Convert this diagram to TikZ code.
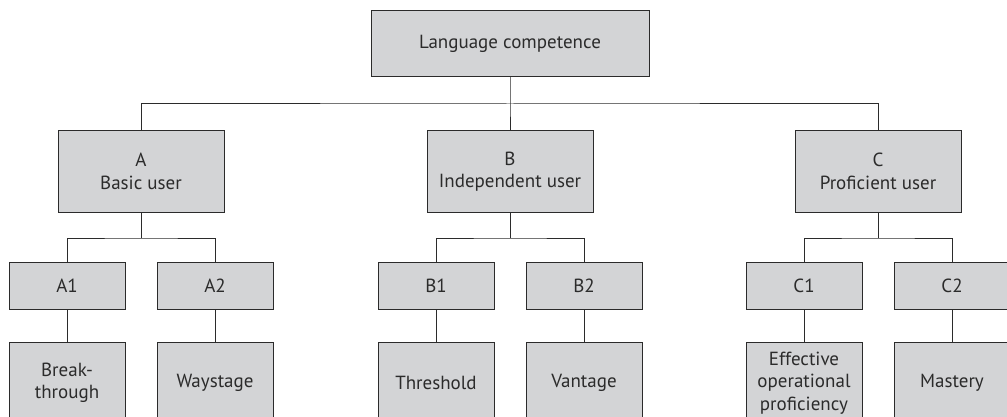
\documentclass[tikz,border=0pt]{standalone}
\usepackage{fontspec}
\setmainfont{PT Sans}
\definecolor{boxfill}{HTML}{D3D4D6}
\definecolor{ink}{HTML}{2B2B2B}
\begin{document}
\begin{tikzpicture}[x=1pt,y=-1pt,
  every node/.style={font=\fontsize{19}{22.5}\selectfont, text=ink, align=center},
  box/.style={draw=ink, fill=boxfill, line width=1pt, rectangle, inner sep=0pt},
  wide/.style={box, minimum width=278pt, minimum height=66pt},
  level/.style={box, minimum width=166pt, minimum height=81pt},
  sub/.style={box, minimum width=116pt, minimum height=47pt},
  leaf/.style={box, minimum width=116pt, minimum height=82pt},
  link/.style={draw=ink, line width=1pt}]
\useasboundingbox (0,0) rectangle (1007,417);
\clip (0,0) rectangle (1007,417);

% root
\node[wide] (top) at (510,44) {Language competence};

% CEFR bands
\node[level] (A) at (141,171.5) {A\\Basic user};
\node[level] (B) at (510,171.5) {B\\Independent user};
\node[level] (C) at (878,171.5) {C\\Proficient user};

% levels
\node[sub] (A1) at (67,285.5) {A1};
\node[sub] (A2) at (215,285.5) {A2};
\node[sub] (B1) at (436,285.5) {B1};
\node[sub] (B2) at (584,285.5) {B2};
\node[sub] (C1) at (804,285.5) {C1};
\node[sub] (C2) at (952,285.5) {C2};

% level names
\node[leaf] (A1n) at (67,383) {Break-\\through};
\node[leaf] (A2n) at (215,383) {Waystage};
\node[leaf] (B1n) at (436,383) {Threshold};
\node[leaf] (B2n) at (584,383) {Vantage};
\node[leaf] (C1n) at (804,383) {Effective\\operational\\proficiency};
\node[leaf] (C2n) at (952,383) {Mastery};

% bus junctions
\coordinate (busTop) at (510,104);
\coordinate (busA) at (141,238);
\coordinate (busB) at (510,238);
\coordinate (busC) at (878,238);

% connectors
\draw[link] (top.south) -- (busTop) -- (B.north);
\draw[link] (A.north) |- (busTop) -| (C.north);
\draw[link] (A.south) -- (busA);
\draw[link] (A1.north) |- (busA) -| (A2.north);
\draw[link] (B.south) -- (busB);
\draw[link] (B1.north) |- (busB) -| (B2.north);
\draw[link] (C.south) -- (busC);
\draw[link] (C1.north) |- (busC) -| (C2.north);
\draw[link] (A1) -- (A1n);
\draw[link] (A2) -- (A2n);
\draw[link] (B1) -- (B1n);
\draw[link] (B2) -- (B2n);
\draw[link] (C1) -- (C1n);
\draw[link] (C2) -- (C2n);
\end{tikzpicture}
\end{document}
